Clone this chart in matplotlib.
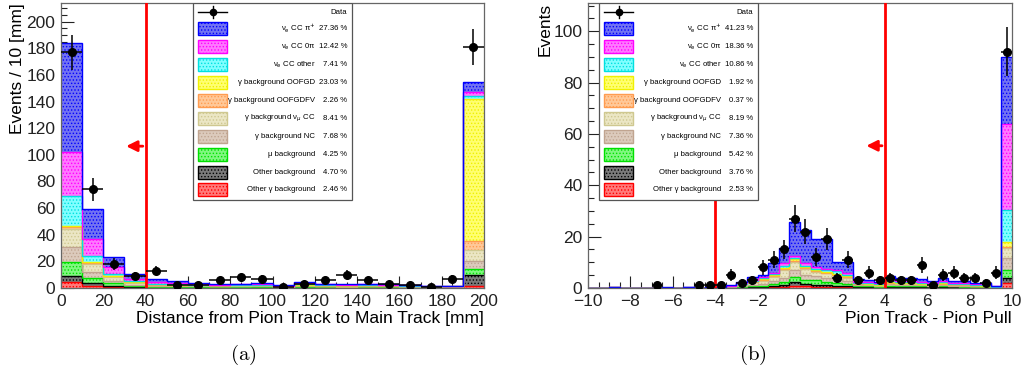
import matplotlib
matplotlib.use('Agg')
import matplotlib.pyplot as plt
import numpy as np
from matplotlib.patches import Rectangle
from matplotlib.lines import Line2D
from matplotlib.ticker import MultipleLocator

plt.rcParams['font.family'] = ['Liberation Sans', 'DejaVu Sans']
plt.rcParams['hatch.linewidth'] = 0.6

# legend order (top of the stack first)
names = [r'ν$_{\rm e}$ CC π$^{+}$', r'ν$_{\rm e}$ CC 0π', r'ν$_{\rm e}$ CC other',
         'γ background OOFGD', 'γ background OOFGDFV', r'γ background ν$_{\mu}$ CC',
         'γ background NC', 'μ background', 'Other background', 'Other γ background']
fill_cols = ['#7272f2', '#ff78ff', '#80ffff', '#ffff70', '#ffc898', '#ebe6c4',
             '#dccabc', '#80f880', '#7a7a7a', '#ff7a7a']
line_cols = ['#0000ff', '#ff00ff', '#00e0e0', '#f0f000', '#ff9c50', '#cfc890',
             '#c0a490', '#00e000', '#000000', '#ff0000']

pct_a = ['27.36 %', '12.42 %', '7.41 %', '23.03 %', '2.26 %', '8.41 %', '7.68 %', '4.25 %', '4.70 %', '2.46 %']
pct_b = ['41.23 %', '18.36 %', '10.86 %', '1.92 %', '0.37 %', '8.19 %', '7.36 %', '5.42 %', '3.76 %', '2.53 %']

# ---- panel (a): distance from pion track to main track, 10 mm bins
edges_a = np.arange(0, 210, 10)
a_pip = [81.5, 22.6, 7.5, 3.5, 1.8, 1.7, 0.8, 0.8, 0.6, 0.9, 0.3, 0.8, 0.6, 0.5, 0.6, 0.7, 0.5, 0.3, 0.2, 7.6]
a_0pi = [33.0, 13.3, 5.0, 1.5, 1.5, 0.9, 0.4, 0.4, 0.5, 0.4, 0.4, 0.6, 0.4, 0.4, 0.4, 0.3, 0.4, 0.2, 0.2, 3.2]
a_other = [23.0, 4.2, 1.5, 0.8, 0.4, 0.3, 0.3, 0.2, 0.2, 0.4, 0.1, 0.3, 0.3, 0.2, 0.3, 0.3, 0.2, 0.1, 0.1, 2.2]
a_oofgd = [0.7, 1.0, 0.5, 0.5, 0.2, 0.2, 0.1, 0.1, 0.1, 0.1, 0.1, 0.3, 0.2, 0.2, 0.2, 0.2, 0.1, 0.1, 0.1, 106.0]
a_oofgdfv = [1.3, 0.5, 0.7, 0.3, 0.1, 0.1, 0.1, 0.1, 0.1, 0.1, 0.1, 0.1, 0.1, 0.1, 0.1, 0.1, 0.1, 0.1, 0.1, 7.0]
a_numucc = [13.8, 6.3, 2.5, 1.5, 0.8, 0.6, 0.5, 0.5, 0.4, 0.5, 0.3, 0.6, 0.5, 0.4, 0.5, 0.5, 0.4, 0.3, 0.3, 8.1]
a_nc = [11.3, 4.2, 2.0, 1.0, 0.8, 0.7, 0.6, 0.5, 0.5, 0.5, 0.3, 0.6, 0.5, 0.4, 0.5, 0.5, 0.4, 0.3, 0.3, 6.2]
a_mu = [10.0, 4.0, 2.0, 0.7, 0.3, 0.5, 0.3, 0.2, 0.4, 0.3, 0.1, 0.5, 0.3, 0.3, 0.3, 0.2, 0.2, 0.1, 0.2, 4.3]
a_otherbkg = [5.0, 2.0, 1.0, 0.5, 0.3, 0.3, 0.3, 0.3, 0.3, 0.3, 0.2, 0.3, 0.2, 0.2, 0.2, 0.3, 0.2, 0.1, 0.1, 8.8]
a_othergamma = [4.2, 1.5, 0.5, 0.3, 0.3, 0.2, 0.2, 0.2, 0.2, 0.3, 0.1, 0.2, 0.2, 0.1, 0.2, 0.2, 0.1, 0.1, 0.1, 1.2]
a_data = [177, 74, 18, 9, 13, 2, 2, 6, 8, 7, 1, 3, 6, 10, 6, 3, 2, 1, 7, 181]
cut_a = 40
arrow_a = (29.5, 106.5)

# ---- panel (b): pion pull, 0.5 bins from -10 to 10
edges_b = np.arange(-10, 10.5, 0.5)
b_pip = [0, 0, 0, 0, 0, 0, 0, 0.2, 0, 0, 0, 0.2, 0.2, 0.3, 0.6, 1.0, 0.9, 3.6, 5.8, 13.2,
         13.0, 11.0, 11.4, 3.2, 4.5, 1.0, 0.8, 0.6, 1.4, 1.1, 1.1, 0.9, 0.7, 1.1, 0.6, 0.6, 0.5, 0.4, 0.2, 26.0]
b_0pi = [0, 0, 0, 0, 0, 0, 0, 0, 0, 0, 0, 0, 0, 0, 0.2, 0.3, 0.4, 0.4, 1.0, 0.9,
         0.9, 0.7, 0.6, 0.6, 0.5, 0.4, 0.3, 0.3, 0.6, 0.6, 0.5, 0.5, 0.3, 0.5, 0.4, 0.4, 0.3, 0.3, 0.1, 33.7]
b_other = [0, 0, 0, 0, 0, 0, 0, 0, 0, 0.2, 0, 0, 0.1, 0.3, 0.2, 0.3, 0.4, 0.6, 0.8, 0.5,
           0.4, 0.4, 0.6, 1.0, 0.6, 0.3, 0.3, 0.3, 0.5, 0.4, 0.5, 0.4, 0.3, 0.4, 0.3, 0.3, 0.2, 0.2, 0.1, 12.3]
b_oofgd = [0, 0, 0, 0, 0, 0, 0, 0, 0, 0, 0, 0, 0, 0, 0.1, 0.2, 0.3, 0.3, 0.4, 0.6,
           0.5, 0.3, 0.3, 0.3, 0.3, 0.1, 0.1, 0.1, 0.1, 0.1, 0.1, 0.1, 0.1, 0.1, 0.1, 0.1, 0.1, 0.1, 0, 2.0]
b_oofgdfv = [0, 0, 0.2, 0, 0, 0, 0, 0, 0, 0, 0, 0, 0, 0, 0.1, 0.2, 0.2, 0.3, 0.4, 0.4,
             0.4, 0.3, 0.3, 0.3, 0.3, 0.1, 0.1, 0.1, 0.1, 0.1, 0.1, 0.1, 0.1, 0.1, 0.1, 0.1, 0, 0, 0, 0.6]
b_numucc = [0, 0, 0, 0, 0, 0, 0, 0, 0, 0, 0, 0, 0, 0.3, 0.5, 0.9, 1.2, 1.6, 3.0, 3.2,
            2.4, 1.6, 1.8, 1.5, 1.4, 0.5, 0.4, 0.3, 0.6, 0.5, 0.5, 0.4, 0.3, 0.5, 0.3, 0.4, 0.3, 0.2, 0.1, 3.9]
b_nc = [0, 0, 0, 0, 0, 0, 0, 0, 0, 0, 0, 0, 0, 0.2, 0.4, 0.6, 0.8, 1.3, 1.8, 2.8,
        1.9, 1.6, 1.6, 1.4, 1.2, 0.4, 0.3, 0.3, 0.5, 0.4, 0.5, 0.4, 0.3, 0.4, 0.3, 0.3, 0.2, 0.2, 0.1, 4.3]
b_mu = [0, 0, 0, 0, 0, 0, 0, 0, 0, 0, 0, 0, 0, 0.1, 0.2, 0.4, 0.5, 0.9, 1.2, 1.7,
        1.5, 1.9, 1.3, 1.2, 0.8, 0.4, 0.4, 0.3, 0.4, 0.4, 0.4, 0.3, 0.3, 0.4, 0.3, 0.3, 0.2, 0.2, 0.1, 3.2]
b_otherbkg = [0, 0, 0, 0, 0, 0, 0, 0, 0, 0, 0, 0, 0, 0, 0.1, 0.2, 0.3, 0.4, 0.7, 1.7,
              0.8, 0.8, 0.6, 0.5, 0.4, 0.2, 0.2, 0.1, 0.3, 0.3, 0.2, 0.2, 0.2, 0.2, 0.2, 0.1, 0.1, 0.1, 0.1, 2.2]
b_othergamma = [0, 0, 0, 0, 0, 0, 0, 0, 0, 0, 0, 0, 0, 0, 0.1, 0.1, 0.1, 0.2, 0.3, 0.8,
                0.8, 0.4, 0.4, 0.3, 0.2, 0.1, 0.1, 0.1, 0.2, 0.1, 0.1, 0.1, 0.1, 0.1, 0.1, 0.1, 0.1, 0.1, 0, 1.8]
b_data = [0, 0, 0, 0, 0, 0, 1, 0, 0, 0, 1, 1, 1, 5, 2, 3, 8, 11, 15, 27,
          22, 12, 19, 4, 11, 3, 6, 3, 4, 3, 3, 9, 1, 5, 6, 4, 4, 2, 6, 92]
cuts_b = [-4, 4]
arrow_b = (3.0, 55.4)


def draw_stack(ax, edges, layers):
    # layers given top-first, stack from the bottom
    bottom = np.zeros(len(edges) - 1)
    for k in reversed(range(len(layers))):
        vals = np.array(layers[k], dtype=float)
        top = bottom + vals
        ax.stairs(top, edges, baseline=bottom, fill=True, facecolor=fill_cols[k],
                  edgecolor=line_cols[k], hatch='.....', linewidth=0, zorder=2)
        ax.stairs(top, edges, baseline=None, fill=False, color=line_cols[k],
                  linewidth=1.0, zorder=2.5)
        bottom = top


def draw_data(ax, edges, data):
    data = np.array(data, dtype=float)
    centers = 0.5 * (edges[1:] + edges[:-1])
    half = 0.5 * np.diff(edges)
    keep = data > 0
    ax.errorbar(centers[keep], data[keep], xerr=half[keep], yerr=np.sqrt(data[keep]),
                fmt='o', color='black', ms=5.5, elinewidth=1.1, capsize=0, zorder=6)


def draw_legend(ax, x0, w_px, pcts):
    h_px = 285.0
    fx = lambda p: x0 + p / w_px
    fy = lambda p: 1.0 - p / h_px
    ax.add_patch(Rectangle((x0, fy(197)), 159 / w_px, 197 / h_px, transform=ax.transAxes,
                           facecolor='white', edgecolor='#555555', lw=0.9, zorder=10))
    # data entry
    yd = fy(9)
    ax.add_line(Line2D([fx(5), fx(33.4)], [yd, yd], transform=ax.transAxes, color='black', lw=1, zorder=11))
    ax.add_line(Line2D([fx(19.2), fx(19.2)], [yd - 6 / h_px, yd + 6 / h_px], transform=ax.transAxes,
                       color='black', lw=1, zorder=11))
    ax.plot([fx(19.2)], [yd], 'o', color='black', ms=4.5, transform=ax.transAxes, zorder=11)
    ax.text(fx(154), yd, 'Data', transform=ax.transAxes, ha='right', va='center', fontsize=5.6, zorder=11)
    for k in range(len(names)):
        yc = fy(25.8 + 17.9 * k)
        ax.add_patch(Rectangle((fx(5), yc - 6.5 / h_px), 28.4 / w_px, 13 / h_px, transform=ax.transAxes,
                               facecolor=fill_cols[k], edgecolor=line_cols[k], hatch='.....', lw=1, zorder=11))
        ax.text(fx(122), yc, names[k], transform=ax.transAxes, ha='right', va='center', fontsize=5.6, zorder=11)
        ax.text(fx(154), yc, pcts[k], transform=ax.transAxes, ha='right', va='center', fontsize=5.6, zorder=11)


def style_axes(ax, xmaj, xmin, ymin_step):
    ax.xaxis.set_major_locator(MultipleLocator(xmaj))
    ax.xaxis.set_minor_locator(MultipleLocator(xmin))
    ax.yaxis.set_major_locator(MultipleLocator(20))
    ax.yaxis.set_minor_locator(MultipleLocator(ymin_step))
    ax.tick_params(which='both', direction='in', top=False, right=False, labelsize=12.5, colors='#222222')
    ax.tick_params(which='major', length=9, width=0.8, pad=4)
    ax.tick_params(which='minor', length=4.5, width=0.8)
    ax.tick_params(axis='x', pad=4)
    for sp in ax.spines.values():
        sp.set_color('#666666')
        sp.set_linewidth(0.9)


fig = plt.figure(figsize=(10.26, 3.76), dpi=100)
ax1 = fig.add_axes([61 / 1026, 88 / 376, 423 / 1026, 285 / 376])
ax2 = fig.add_axes([588 / 1026, 88 / 376, 424 / 1026, 285 / 376])

layers_a = [a_pip, a_0pi, a_other, a_oofgd, a_oofgdfv, a_numucc, a_nc, a_mu, a_otherbkg, a_othergamma]
layers_b = [b_pip, b_0pi, b_other, b_oofgd, b_oofgdfv, b_numucc, b_nc, b_mu, b_otherbkg, b_othergamma]

# panel a
draw_stack(ax1, edges_a, layers_a)
draw_data(ax1, edges_a, a_data)
ax1.axvline(cut_a, color='red', lw=2, zorder=5)
ax1.annotate('', xy=arrow_a, xytext=(cut_a, arrow_a[1]),
             arrowprops=dict(arrowstyle='-|>', color='red', lw=2, mutation_scale=16), zorder=5)
ax1.set_xlim(0, 200)
ax1.set_ylim(0, 214)
style_axes(ax1, 20, 5, 5)
ax1.set_ylabel('Events / 10 [mm]', fontsize=12.5, loc='top')
ax1.yaxis.set_label_coords(-0.086, 1.0)
ax1.set_xlabel('Distance from Pion Track to Main Track [mm]', fontsize=12.5, loc='right')
ax1.xaxis.set_label_coords(1.0, -0.082)
draw_legend(ax1, (193.3 - 61) / 423, 423.0, pct_a)

# panel b
draw_stack(ax2, edges_b, layers_b)
draw_data(ax2, edges_b, b_data)
for c in cuts_b:
    ax2.axvline(c, color='red', lw=2, zorder=5)
ax2.annotate('', xy=arrow_b, xytext=(cuts_b[1], arrow_b[1]),
             arrowprops=dict(arrowstyle='-|>', color='red', lw=2, mutation_scale=16), zorder=5)
ax2.set_xlim(-10, 10)
ax2.set_ylim(0, 111)
style_axes(ax2, 2, 0.5, 5)
ax2.set_ylabel('Events', fontsize=12.5, loc='top')
ax2.yaxis.set_label_coords(-0.083, 1.0)
ax2.set_xlabel('Pion Track - Pion Pull', fontsize=12.5, loc='right')
ax2.xaxis.set_label_coords(1.0, -0.082)
draw_legend(ax2, (599.3 - 588) / 424, 424.0, pct_b)

fig.text(243 / 1026, 1 - 355 / 376, r'$\mathrm{(a)}$', math_fontfamily='cm', fontsize=15, ha='center', va='center')
fig.text(753 / 1026, 1 - 355 / 376, r'$\mathrm{(b)}$', math_fontfamily='cm', fontsize=15, ha='center', va='center')

fig.savefig('out.png', dpi=100)
